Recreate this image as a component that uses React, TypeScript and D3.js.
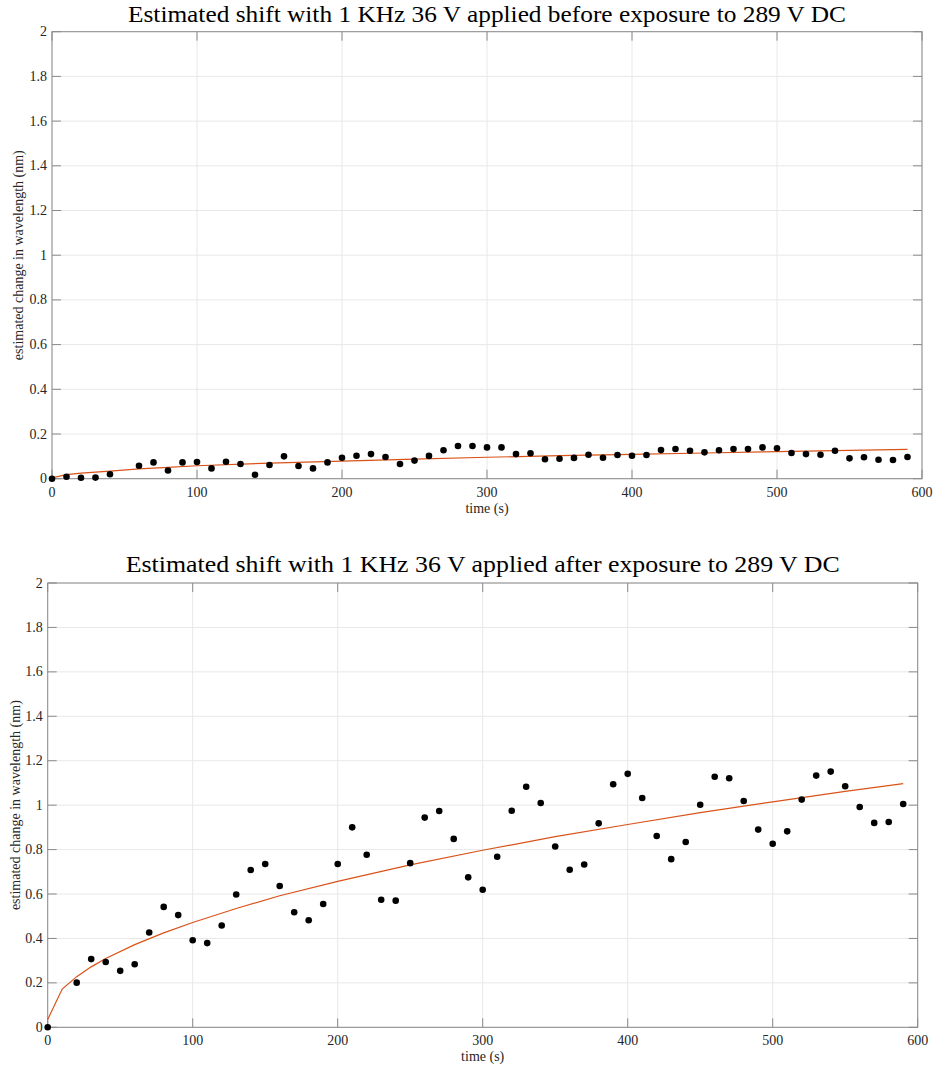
import React from "react";
import * as d3 from "d3";

const timeTicks = [0, 100, 200, 300, 400, 500, 600];
const shiftTicks = [0, 0.2, 0.4, 0.6, 0.8, 1, 1.2, 1.4, 1.6, 1.8, 2];

// Top chart: before exposure (x=50 missing)
const beforeTime = [0, 10, 20, 30, 40, 60, 70, 80, 90, 100, 110, 120, 130, 140, 150, 160, 170, 180, 190, 200, 210, 220, 230, 240, 250, 260, 270, 280, 290, 300, 310, 320, 330, 340, 350, 360, 370, 380, 390, 400, 410, 420, 430, 440, 450, 460, 470, 480, 490, 500, 510, 520, 530, 540, 550, 560, 570, 580, 590];
const beforeShift = [0, 0.009, 0.004, 0.005, 0.02, 0.058, 0.073, 0.037, 0.073, 0.075, 0.046, 0.076, 0.066, 0.018, 0.061, 0.1, 0.057, 0.046, 0.073, 0.094, 0.103, 0.11, 0.097, 0.066, 0.081, 0.102, 0.127, 0.146, 0.146, 0.14, 0.14, 0.11, 0.114, 0.087, 0.089, 0.093, 0.107, 0.094, 0.106, 0.103, 0.106, 0.128, 0.133, 0.125, 0.118, 0.127, 0.133, 0.133, 0.14, 0.136, 0.115, 0.11, 0.107, 0.125, 0.091, 0.096, 0.085, 0.084, 0.097];
const beforeFitTime = [0, 10, 20, 40, 60, 80, 100, 150, 200, 250, 300, 350, 400, 450, 500, 550, 590];
const beforeFitShift = [0.004, 0.018, 0.025, 0.034, 0.044, 0.051, 0.058, 0.07, 0.079, 0.088, 0.096, 0.103, 0.109, 0.115, 0.121, 0.127, 0.131];

// Bottom chart: after exposure (x=10 missing)
const afterTime = [0, 20, 30, 40, 50, 60, 70, 80, 90, 100, 110, 120, 130, 140, 150, 160, 170, 180, 190, 200, 210, 220, 230, 240, 250, 260, 270, 280, 290, 300, 310, 320, 330, 340, 350, 360, 370, 380, 390, 400, 410, 420, 430, 440, 450, 460, 470, 480, 490, 500, 510, 520, 530, 540, 550, 560, 570, 580, 590];
const afterShift = [0, 0.201, 0.307, 0.294, 0.254, 0.284, 0.427, 0.542, 0.505, 0.392, 0.379, 0.458, 0.598, 0.708, 0.735, 0.636, 0.518, 0.482, 0.555, 0.735, 0.9, 0.777, 0.574, 0.57, 0.739, 0.944, 0.974, 0.848, 0.675, 0.619, 0.768, 0.975, 1.083, 1.01, 0.814, 0.709, 0.733, 0.918, 1.094, 1.141, 1.032, 0.861, 0.757, 0.834, 1.002, 1.128, 1.121, 1.019, 0.89, 0.826, 0.882, 1.025, 1.133, 1.151, 1.085, 0.992, 0.92, 0.924, 1.005];
const afterFitTime = [0, 10, 20, 30, 40, 60, 80, 100, 130, 160, 200, 250, 300, 350, 400, 450, 500, 550, 590];
const afterFitShift = [0.035, 0.172, 0.228, 0.272, 0.31, 0.372, 0.425, 0.472, 0.535, 0.592, 0.657, 0.731, 0.797, 0.858, 0.913, 0.966, 1.015, 1.062, 1.097];

const FONT = "'Liberation Serif', 'DejaVu Serif', serif";
const AXIS = "#8a8a8a";
const GRID = "#e8e8e8";
const TXT = "#262626";

type PanelProps = {
  title: string;
  titleWidth: number;
  left: number; right: number; top: number; bottom: number;
  titleY: number; xLabelY: number; yLabelX: number;
  xs: number[]; ys: number[]; fx: number[]; fy: number[];
};

function Panel(p: PanelProps) {
  const x = d3.scaleLinear().domain([0, 600]).range([p.left, p.right]);
  const y = d3.scaleLinear().domain([0, 2]).range([p.bottom, p.top]);
  const line = d3.line<number>().x((d, i) => x(p.fx[i])).y((d) => y(d));
  const tl = 9;
  return (
    <g>
      {timeTicks.map((t) => (
        <line key={"gx" + t} x1={x(t)} x2={x(t)} y1={p.top} y2={p.bottom} stroke={GRID} strokeWidth={1} />
      ))}
      {shiftTicks.map((t) => (
        <line key={"gy" + t} x1={p.left} x2={p.right} y1={y(t)} y2={y(t)} stroke={GRID} strokeWidth={1} />
      ))}
      <rect x={p.left} y={p.top} width={p.right - p.left} height={p.bottom - p.top} fill="none" stroke={AXIS} strokeWidth={1} />
      {timeTicks.map((t) => (
        <g key={"tx" + t}>
          <line x1={x(t)} x2={x(t)} y1={p.bottom} y2={p.bottom - tl} stroke={AXIS} />
          <line x1={x(t)} x2={x(t)} y1={p.top} y2={p.top + tl} stroke={AXIS} />
          <text x={x(t)} y={p.bottom + 18} textAnchor="middle" fontFamily={FONT} fontSize={14} fill={TXT}>{t}</text>
        </g>
      ))}
      {shiftTicks.map((t) => (
        <g key={"ty" + t}>
          <line x1={p.left} x2={p.left + tl} y1={y(t)} y2={y(t)} stroke={AXIS} />
          <line x1={p.right} x2={p.right - tl} y1={y(t)} y2={y(t)} stroke={AXIS} />
          <text x={p.left - 5} y={y(t) + 4.5} textAnchor="end" fontFamily={FONT} fontSize={14} fill={TXT}>{String(t)}</text>
        </g>
      ))}
      <path d={line(p.fy) || ""} fill="none" stroke="#D95319" strokeWidth={1.2} />
      {p.xs.map((t, i) => (
        <circle key={"pt" + i} cx={x(t)} cy={y(p.ys[i])} r={3.3} fill="#000" />
      ))}
      <text x={(p.left + p.right) / 2} y={p.titleY} textAnchor="middle" fontFamily={FONT} fontSize={24} fill="#000" textLength={p.titleWidth} lengthAdjust="spacingAndGlyphs">{p.title}</text>
      <text x={(p.left + p.right) / 2} y={p.xLabelY} textAnchor="middle" fontFamily={FONT} fontSize={14} fill={TXT}>time (s)</text>
      <text transform={`translate(${p.yLabelX},${(p.top + p.bottom) / 2}) rotate(-90)`} textAnchor="middle" fontFamily={FONT} fontSize={14} fill={TXT}>estimated change in wavelength (nm)</text>
    </g>
  );
}

export default function App() {
  return (
    <svg width={937} height={1068} style={{ position: "absolute", left: 0, top: 0, background: "#fff" }}>
      <rect width={937} height={1068} fill="#fff" />
      <Panel
        title="Estimated shift with 1 KHz 36 V applied before exposure to 289 V DC"
        titleWidth={718}
        left={52} right={922} top={31.7} bottom={478.7}
        titleY={22} xLabelY={513} yLabelX={23}
        xs={beforeTime} ys={beforeShift} fx={beforeFitTime} fy={beforeFitShift}
      />
      <Panel
        title="Estimated shift with 1 KHz 36 V applied after exposure to 289 V DC"
        titleWidth={714}
        left={47.7} right={917.7} top={583} bottom={1027.3}
        titleY={572} xLabelY={1061} yLabelX={20}
        xs={afterTime} ys={afterShift} fx={afterFitTime} fy={afterFitShift}
      />
    </svg>
  );
}
